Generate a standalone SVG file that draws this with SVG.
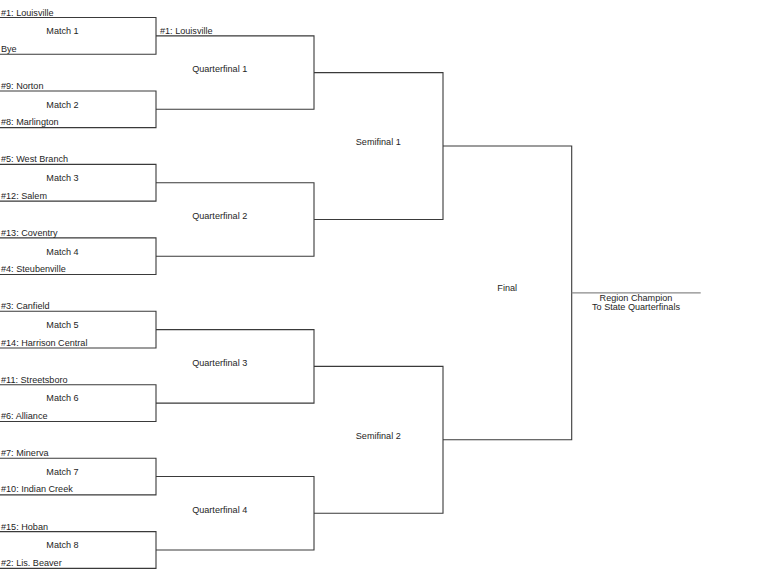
<svg xmlns="http://www.w3.org/2000/svg" width="768" height="580" viewBox="0 0 768 580">
<style>
.ln{fill:none;stroke:#3a3a3a;stroke-width:1.1}
.ch{fill:none;stroke:#8a8a8a;stroke-width:1.2}
text{font-family:"Liberation Sans",Arial,sans-serif;font-size:9.1px;fill:#1e1e1e}
.c{text-anchor:middle}
</style>
<rect width="768" height="580" fill="#fff"/>
<g id="connectors">
<path class="ln" d="M0 17.5H156V54.2H0"/>
<path class="ln" d="M0 90.95H156V127.65H0"/>
<path class="ln" d="M0 164.4H156V201.1H0"/>
<path class="ln" d="M0 237.85H156V274.55H0"/>
<path class="ln" d="M0 311.3H156V348H0"/>
<path class="ln" d="M0 384.75H156V421.45H0"/>
<path class="ln" d="M0 458.2H156V494.9H0"/>
<path class="ln" d="M0 531.65H156V568.35H0"/>
<path class="ln" d="M156 35.85H314V109.3H156"/>
<path class="ln" d="M156 182.75H314V256.2H156"/>
<path class="ln" d="M156 329.65H314V403.1H156"/>
<path class="ln" d="M156 476.55H314V550H156"/>
<path class="ln" d="M314 72.6H443V219.5H314"/>
<path class="ln" d="M314 366.4H443V513.3H314"/>
<path class="ln" d="M443 146H571.7V439.8H443"/>
<path class="ch" d="M571.7 292.8H700.7"/>
</g>
<g id="match1"><text x="1" y="15.5">#1: Louisville</text><text class="c" x="62.5" y="34.2">Match 1</text><text x="1" y="51.7">Bye</text></g>
<g id="match2"><text x="1" y="88.9">#9: Norton</text><text class="c" x="62.5" y="107.6">Match 2</text><text x="1" y="125.1">#8: Marlington</text></g>
<g id="match3"><text x="1" y="162.4">#5: West Branch</text><text class="c" x="62.5" y="181.1">Match 3</text><text x="1" y="198.6">#12: Salem</text></g>
<g id="match4"><text x="1" y="235.8">#13: Coventry</text><text class="c" x="62.5" y="254.5">Match 4</text><text x="1" y="272">#4: Steubenville</text></g>
<g id="match5"><text x="1" y="309.3">#3: Canfield</text><text class="c" x="62.5" y="328">Match 5</text><text x="1" y="345.5">#14: Harrison Central</text></g>
<g id="match6"><text x="1" y="382.7">#11: Streetsboro</text><text class="c" x="62.5" y="401.4">Match 6</text><text x="1" y="418.9">#6: Alliance</text></g>
<g id="match7"><text x="1" y="456.2">#7: Minerva</text><text class="c" x="62.5" y="474.9">Match 7</text><text x="1" y="492.4">#10: Indian Creek</text></g>
<g id="match8"><text x="1" y="529.6">#15: Hoban</text><text class="c" x="62.5" y="548.3">Match 8</text><text x="1" y="565.8">#2: Lis. Beaver</text></g>
<g id="qf1"><text x="160" y="33.8">#1: Louisville</text><text class="c" x="219.7" y="72.3">Quarterfinal 1</text></g>
<g id="qf2"><text class="c" x="219.7" y="219">Quarterfinal 2</text></g>
<g id="qf3"><text class="c" x="219.7" y="365.9">Quarterfinal 3</text></g>
<g id="qf4"><text class="c" x="219.7" y="512.8">Quarterfinal 4</text></g>
<g id="sf1"><text class="c" x="378.3" y="145">Semifinal 1</text></g>
<g id="sf2"><text class="c" x="378.3" y="438.8">Semifinal 2</text></g>
<g id="final"><text class="c" x="507.2" y="291.4">Final</text></g>
<g id="champion"><text class="c" x="636" y="300.7">Region Champion</text><text class="c" x="636" y="310">To State Quarterfinals</text></g>
</svg>
